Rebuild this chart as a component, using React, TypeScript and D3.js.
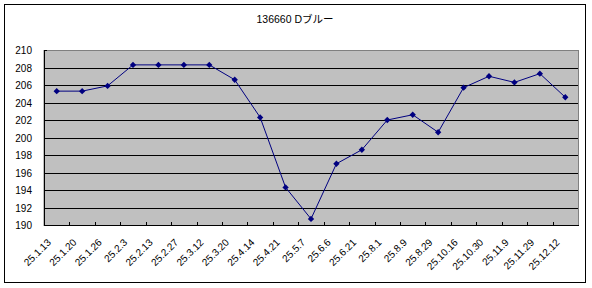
import React from "react";
import * as d3 from "d3";

const categories: string[] = [
  "25.1.13", "25.1.20", "25.1.26", "25.2.3", "25.2.13", "25.2.27", "25.3.12",
  "25.3.20", "25.4.14", "25.4.21", "25.5.7", "25.6.6", "25.6.21", "25.8.1",
  "25.8.9", "25.8.29", "25.10.16", "25.10.30", "25.11.9", "25.11.29", "25.12.12",
];
const values: number[] = [
  205.3, 205.3, 205.9, 208.3, 208.3, 208.3, 208.3,
  206.6, 202.3, 194.3, 190.7, 197.0, 198.6, 202.0,
  202.6, 200.6, 205.7, 207.0, 206.3, 207.3, 204.6,
];
const yTicks: number[] = [190, 192, 194, 196, 198, 200, 202, 204, 206, 208, 210];
const title = "136660 Dブルー";

const W = 592;
const H = 288;
const plot = { left: 44, right: 578, top: 50, bottom: 225 };
const font = "'Liberation Sans', Arial, 'Noto Sans CJK JP', sans-serif";

export default function App() {
  const x = d3.scaleBand<string>().domain(categories).range([plot.left, plot.right]).padding(0);
  const y = d3.scaleLinear().domain([190, 210]).range([plot.bottom, plot.top]);
  const cx = (c: string) => (x(c) as number) + x.bandwidth() / 2;
  const line = d3
    .line<number>()
    .x((_, i) => cx(categories[i]))
    .y((v) => y(v));
  const diamond = d3.symbol().type(d3.symbolSquare).size(20)() as string;

  return (
    <svg
      width={W}
      height={H}
      style={{ position: "absolute", left: 0, top: 0, display: "block" }}
      fontFamily={font}
    >
      <rect x={0} y={0} width={W} height={H} fill="#ffffff" />
      <rect x={4.5} y={4.5} width={581} height={278} fill="#ffffff" stroke="#000" strokeWidth={1} />
      <text x={295} y={23} textAnchor="middle" fontSize={10.5} fill="#000">
        {title}
      </text>
      <rect
        x={plot.left}
        y={plot.top + 0.5}
        width={plot.right - plot.left + 0.5}
        height={plot.bottom - plot.top}
        fill="#c0c0c0"
        stroke="#808080"
        strokeWidth={1}
      />
      {yTicks
        .filter((t) => t > 190 && t < 210)
        .map((t) => (
          <line
            key={"g" + t}
            x1={plot.left}
            x2={plot.right}
            y1={Math.round(y(t)) + 0.5}
            y2={Math.round(y(t)) + 0.5}
            stroke="#000"
            strokeWidth={1}
          />
        ))}
      <line x1={plot.left} x2={plot.left + 3} y1={plot.top + 0.5} y2={plot.top + 0.5} stroke="#000" />
      <line x1={plot.left + 0.5} x2={plot.left + 0.5} y1={plot.top} y2={plot.bottom + 1} stroke="#000" />
      <line x1={plot.left} x2={plot.right + 1} y1={plot.bottom + 0.5} y2={plot.bottom + 0.5} stroke="#000" />
      {categories.slice(1).map((c) => (
        <line
          key={"t" + c}
          x1={Math.round(x(c) as number) + 0.5}
          x2={Math.round(x(c) as number) + 0.5}
          y1={plot.bottom - 3}
          y2={plot.bottom}
          stroke="#000"
        />
      ))}
      {yTicks.map((t) => (
        <text key={"y" + t} x={32} y={y(t) + 4} textAnchor="end" fontSize={10} fill="#000">
          {t}
        </text>
      ))}
      {categories.map((c) => {
        const ax = cx(c) - 5;
        const ay = 243;
        return (
          <text
            key={"x" + c}
            x={ax}
            y={ay}
            textAnchor="end"
            fontSize={10}
            fill="#000"
            transform={`rotate(-45 ${ax} ${ay})`}
          >
            {c}
          </text>
        );
      })}
      <path d={line(values) as string} fill="none" stroke="#000080" strokeWidth={1} />
      {values.map((v, i) => (
        <path
          key={"m" + i}
          d={diamond}
          transform={`translate(${cx(categories[i])},${y(v)}) rotate(45)`}
          fill="#000080"
        />
      ))}
    </svg>
  );
}
